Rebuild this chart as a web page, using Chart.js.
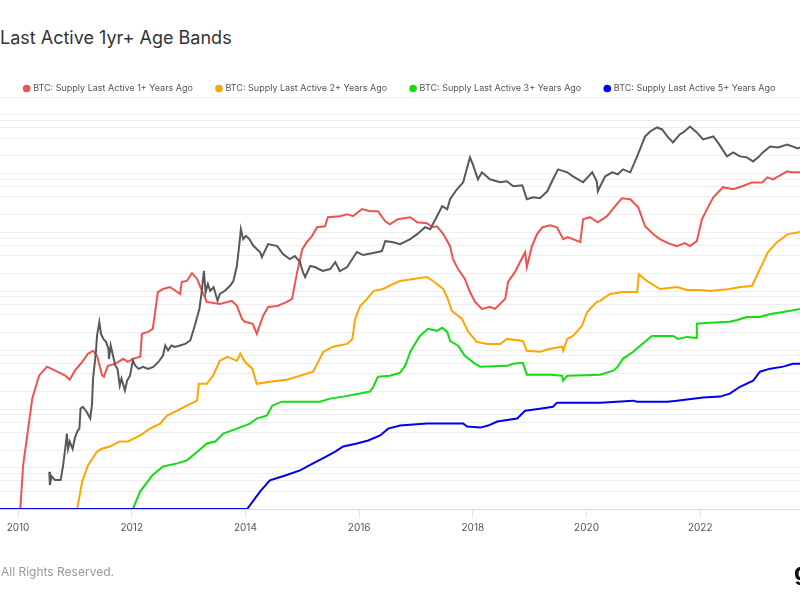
<!DOCTYPE html>
<html>
<head>
<meta charset="UTF-8">
<title>Supply Last Active 1yr+ Age Bands</title>
<script src="https://cdn.jsdelivr.net/npm/chart.js@4.4.0/dist/chart.umd.min.js"></script>
<style>
    html, body { margin: 0; padding: 0; background: #fff; width: 800px; height: 600px; overflow: hidden; }
    body { position: relative; font-family: Inter, "Noto Sans", sans-serif; }
    #title { position: absolute; left: 0; top: 27px; font-size: 18px; line-height: 22px; color: #333; white-space: nowrap; }
    #holder { position: absolute; left: 0; top: 0; width: 800px; height: 600px; }
    #footer { position: absolute; left: 1px; top: 564px; font-size: 12px; line-height: 15px; color: #999; white-space: nowrap; }
    #logo { position: absolute; left: 794px; top: 558px; font-size: 24px; line-height: 28px; font-weight: 700; color: #111; white-space: nowrap; }
</style>
</head>
<body>
<div id="title">Last Active 1yr+ Age Bands</div>
<div id="holder"><canvas id="chart-area" width="800" height="600"></canvas></div>
<div id="footer">All Rights Reserved.</div>
<div id="logo">glassnode</div>
<script>
    // x = decimal year
    var yearTicks = [2010, 2012, 2014, 2016, 2018, 2020, 2022];
    var priceSteps = [1, 2, 4, 6, 8];   // log grid lines in each decade

    // BTC price (USD), log axis
    var priceUsd = [[2010.55,0.086],[2010.56,0.051],[2010.59,0.072],[2010.65,0.062],[2010.75,0.062],[2010.79,0.105],[2010.83,0.21],[2010.86,0.38],[2010.88,0.21],[2010.91,0.28],[2010.96,0.21],[2011.00,0.32],[2011.04,0.41],[2011.08,0.47],[2011.10,1.02],[2011.14,1.09],[2011.21,0.89],[2011.27,0.69],[2011.30,1.16],[2011.32,3.27],[2011.37,9.3],[2011.39,17.7],[2011.43,29.9],[2011.46,18.9],[2011.50,15.6],[2011.55,13.7],[2011.59,10.5],[2011.60,7.1],[2011.63,12.0],[2011.67,8.1],[2011.71,5.5],[2011.75,4.8],[2011.79,2.5],[2011.82,3.3],[2011.88,2.07],[2011.92,3.06],[2011.97,3.7],[2012.02,6.7],[2012.06,5.5],[2012.12,4.8],[2012.20,5.2],[2012.29,4.8],[2012.38,5.2],[2012.47,6.3],[2012.55,8.1],[2012.59,12.0],[2012.64,9.9],[2012.70,12.0],[2012.76,11.3],[2012.85,12.0],[2012.94,12.8],[2013.03,14.6],[2013.11,26.2],[2013.19,50],[2013.23,96],[2013.27,223],[2013.30,96],[2013.34,133],[2013.38,102],[2013.44,117],[2013.51,69],[2013.55,90],[2013.64,102],[2013.73,124],[2013.79,151],[2013.85,272],[2013.89,593],[2013.92,1137],[2013.96,769],[2014.01,875],[2014.07,769],[2014.14,593],[2014.26,458],[2014.29,381],[2014.40,633],[2014.56,586],[2014.66,429],[2014.78,353],[2014.87,396],[2014.96,314],[2015.01,213],[2015.05,175],[2015.14,269],[2015.22,258],[2015.36,221],[2015.49,239],[2015.58,314],[2015.66,221],[2015.79,258],[2015.88,353],[2015.96,464],[2016.07,413],[2016.25,446],[2016.40,482],[2016.46,711],[2016.58,685],[2016.72,633],[2016.90,769],[2017.02,935],[2017.16,1228],[2017.25,1135],[2017.37,1887],[2017.46,2788],[2017.55,2480],[2017.60,3660],[2017.72,5410],[2017.83,7110],[2017.95,18840],[2018.00,14350],[2018.09,8000],[2018.16,10510],[2018.30,8000],[2018.48,7110],[2018.60,7390],[2018.71,6080],[2018.87,6320],[2018.95,3660],[2019.06,3960],[2019.18,3810],[2019.31,5000],[2019.41,8000],[2019.50,11800],[2019.66,10510],[2019.76,8990],[2019.94,7110],[2020.10,10510],[2020.18,7390],[2020.20,5000],[2020.24,6080],[2020.33,8990],[2020.45,10510],[2020.55,9720],[2020.64,11800],[2020.77,10510],[2020.89,19600],[2020.94,25760],[2021.03,42760],[2021.12,52000],[2021.24,60700],[2021.33,56200],[2021.42,42760],[2021.52,33800],[2021.64,46200],[2021.70,50000],[2021.82,63100],[2021.94,50000],[2022.05,38000],[2022.23,42760],[2022.31,33800],[2022.47,19600],[2022.58,22900],[2022.70,19600],[2022.82,18840],[2022.93,16100],[2023.02,18840],[2023.10,22900],[2023.23,28900],[2023.37,27860],[2023.53,31260],[2023.72,26800],[2023.76,27860]];

    // supply last active N+ years ago (million BTC)
    var supply1y = [[2009.0,0],[2010.04,0],[2010.09,1.73],[2010.25,4.38],[2010.37,5.29],[2010.51,5.65],[2010.69,5.45],[2010.83,5.29],[2010.91,5.13],[2011.00,5.49],[2011.13,5.84],[2011.23,6.16],[2011.32,6.28],[2011.39,6.08],[2011.48,5.29],[2011.51,5.25],[2011.58,5.68],[2011.71,5.76],[2011.85,5.96],[2011.93,5.84],[2012.02,5.96],[2012.15,6.04],[2012.18,6.95],[2012.29,7.03],[2012.37,7.15],[2012.46,8.61],[2012.55,8.73],[2012.67,8.81],[2012.80,8.61],[2012.85,8.53],[2012.88,9.01],[2012.97,9.05],[2013.06,9.36],[2013.15,9.13],[2013.20,8.85],[2013.32,8.22],[2013.55,8.14],[2013.76,8.26],[2013.85,8.06],[2013.94,7.54],[2013.99,7.43],[2014.13,7.35],[2014.20,6.95],[2014.31,7.66],[2014.40,8.02],[2014.56,8.06],[2014.73,8.22],[2014.82,8.34],[2014.91,9.40],[2015.00,10.31],[2015.08,10.59],[2015.17,10.83],[2015.26,11.18],[2015.40,11.22],[2015.45,11.58],[2015.66,11.62],[2015.79,11.70],[2015.89,11.62],[2016.05,11.90],[2016.19,11.82],[2016.33,11.82],[2016.46,11.42],[2016.54,11.30],[2016.68,11.50],[2016.90,11.58],[2017.02,11.38],[2017.19,11.34],[2017.30,11.18],[2017.37,11.22],[2017.48,10.91],[2017.60,10.43],[2017.65,9.92],[2017.74,9.52],[2017.86,9.13],[2017.95,8.61],[2018.04,8.22],[2018.16,7.94],[2018.30,8.02],[2018.39,7.94],[2018.57,8.34],[2018.62,9.01],[2018.74,9.40],[2018.83,9.80],[2018.92,10.19],[2018.95,9.60],[2019.04,10.43],[2019.13,10.91],[2019.22,11.18],[2019.36,11.26],[2019.48,11.18],[2019.59,10.71],[2019.67,10.79],[2019.89,10.59],[2019.94,11.50],[2020.06,11.58],[2020.20,11.38],[2020.36,11.62],[2020.50,12.01],[2020.62,12.33],[2020.77,12.29],[2020.91,11.97],[2021.03,11.22],[2021.17,10.91],[2021.29,10.71],[2021.43,10.55],[2021.59,10.43],[2021.73,10.55],[2021.82,10.43],[2021.94,10.63],[2022.03,11.50],[2022.12,11.90],[2022.23,12.37],[2022.40,12.77],[2022.58,12.69],[2022.74,12.81],[2022.91,12.96],[2023.09,12.96],[2023.18,13.16],[2023.28,13.08],[2023.53,13.40],[2023.61,13.36],[2023.76,13.36]];
    var supply2y = [[2009.0,0],[2011.04,0],[2011.13,1.10],[2011.23,1.73],[2011.39,2.28],[2011.48,2.40],[2011.62,2.48],[2011.79,2.68],[2011.93,2.68],[2012.15,2.92],[2012.32,3.19],[2012.50,3.39],[2012.62,3.71],[2012.80,3.90],[2012.97,4.10],[2013.15,4.30],[2013.18,4.97],[2013.32,4.97],[2013.43,5.29],[2013.55,5.88],[2013.68,6.04],[2013.85,5.88],[2013.91,6.16],[2013.99,5.84],[2014.12,5.57],[2014.20,4.97],[2014.43,5.05],[2014.73,5.13],[2014.96,5.29],[2015.19,5.45],[2015.28,5.84],[2015.37,6.24],[2015.54,6.44],[2015.79,6.55],[2015.88,6.75],[2015.93,7.54],[2016.02,8.06],[2016.14,8.34],[2016.25,8.65],[2016.42,8.73],[2016.60,8.93],[2016.72,9.05],[2016.95,9.13],[2017.19,9.21],[2017.30,9.05],[2017.48,8.73],[2017.56,8.34],[2017.63,7.86],[2017.81,7.54],[2017.92,7.03],[2018.07,6.63],[2018.25,6.55],[2018.48,6.55],[2018.60,6.75],[2018.88,6.67],[2018.95,6.28],[2019.18,6.24],[2019.36,6.36],[2019.57,6.44],[2019.59,6.28],[2019.66,6.75],[2019.76,6.87],[2019.92,7.27],[2020.01,7.82],[2020.18,8.22],[2020.24,8.26],[2020.41,8.53],[2020.64,8.61],[2020.89,8.61],[2020.92,9.32],[2021.06,9.05],[2021.29,8.73],[2021.59,8.81],[2021.77,8.69],[2022.00,8.69],[2022.17,8.65],[2022.52,8.73],[2022.70,8.81],[2022.91,8.85],[2023.05,9.52],[2023.19,10.19],[2023.35,10.59],[2023.54,10.91],[2023.76,10.99]];
    var supply3y = [[2009.0,0],[2012.02,0],[2012.15,0.70],[2012.36,1.33],[2012.55,1.69],[2012.80,1.81],[2012.97,1.93],[2013.18,2.32],[2013.32,2.60],[2013.47,2.68],[2013.61,2.99],[2013.85,3.19],[2014.08,3.39],[2014.20,3.59],[2014.38,3.71],[2014.47,4.10],[2014.64,4.26],[2015.31,4.26],[2015.49,4.38],[2015.72,4.46],[2016.02,4.58],[2016.19,4.66],[2016.25,4.85],[2016.33,5.25],[2016.54,5.29],[2016.72,5.41],[2016.81,5.68],[2016.90,6.24],[2016.98,6.55],[2017.07,6.87],[2017.21,7.15],[2017.37,7.07],[2017.46,7.19],[2017.55,7.03],[2017.60,6.67],[2017.74,6.48],[2017.86,6.08],[2018.04,5.76],[2018.13,5.65],[2018.60,5.68],[2018.71,5.76],[2018.88,5.80],[2018.95,5.33],[2019.36,5.33],[2019.57,5.29],[2019.59,5.09],[2019.66,5.29],[2020.24,5.33],[2020.47,5.49],[2020.55,5.65],[2020.64,5.96],[2020.82,6.24],[2020.98,6.55],[2021.15,6.87],[2021.52,6.87],[2021.61,6.75],[2021.77,6.83],[2021.93,6.79],[2021.94,7.35],[2022.17,7.39],[2022.52,7.43],[2022.65,7.50],[2022.82,7.62],[2023.05,7.62],[2023.23,7.74],[2023.46,7.82],[2023.76,7.94]];
    var supply5y = [[2009.0,0],[2014.03,0],[2014.26,0.70],[2014.43,1.14],[2014.70,1.33],[2014.96,1.53],[2015.19,1.81],[2015.36,2.01],[2015.58,2.28],[2015.72,2.48],[2015.96,2.60],[2016.16,2.72],[2016.37,2.92],[2016.51,3.19],[2016.72,3.31],[2017.19,3.39],[2017.83,3.39],[2017.90,3.27],[2018.13,3.23],[2018.27,3.31],[2018.43,3.47],[2018.78,3.59],[2018.92,3.90],[2019.18,3.98],[2019.41,4.06],[2019.48,4.22],[2020.24,4.22],[2020.82,4.30],[2020.89,4.26],[2021.42,4.26],[2021.59,4.30],[2022.05,4.42],[2022.35,4.46],[2022.52,4.58],[2022.70,4.85],[2022.93,5.09],[2023.05,5.45],[2023.23,5.57],[2023.46,5.65],[2023.63,5.76],[2023.76,5.76]];

    var xMin = 2009.683, xMax = 2023.755;
    var priceMin = 0.02, priceMax = 200000;
    var supplyMax = 16.35;

    function toPoints(arr) {
        return arr.map(function (p) { return { x: p[0], y: p[1] }; });
    }

    var priceGrid = [];
    for (var k = -2; k <= 5; k++) {
        priceSteps.forEach(function (m) {
            var v = +(m * Math.pow(10, k)).toPrecision(6);
            if (v >= priceMin && v <= priceMax) priceGrid.push(v);
        });
    }

    function lineSet(label, data, color, axis, order) {
        return {
            label: label, data: toPoints(data), yAxisID: axis,
            borderColor: color, backgroundColor: color, borderWidth: 2,
            pointRadius: 0, pointHoverRadius: 0, pointStyle: 'circle',
            tension: 0, order: order
        };
    }

    // pull the plot up under the legend
    var legendGap = {
        id: 'legendGap',
        beforeInit: function (chart) {
            var fit = chart.legend.fit;
            chart.legend.fit = function () { fit.call(this); this.height -= 6; };
        }
    };

    var ctx = document.getElementById('chart-area').getContext('2d');
    window.myChart = new Chart(ctx, {
        type: 'line',
        data: {
            datasets: [
                lineSet('BTC: Price', priceUsd, '#595959', 'price', 0),
                lineSet('BTC: Supply Last Active 1+ Years Ago', supply1y, '#ef5350', 'supply', 4),
                lineSet('BTC: Supply Last Active 2+ Years Ago', supply2y, '#ffa500', 'supply', 3),
                lineSet('BTC: Supply Last Active 3+ Years Ago', supply3y, '#11dd11', 'supply', 2),
                lineSet('BTC: Supply Last Active 5+ Years Ago', supply5y, '#0000ee', 'supply', 1)
            ]
        },
        plugins: [legendGap],
        options: {
            responsive: false,
            animation: false,
            layout: { padding: { top: 60, bottom: 62, left: 0, right: 0 } },
            plugins: {
                tooltip: { enabled: false },
                legend: {
                    position: 'top',
                    labels: {
                        usePointStyle: true,
                        boxWidth: 4,
                        boxHeight: 4,
                        padding: 24,
                        color: '#555',
                        font: { family: 'Inter', size: 9 },
                        filter: function (item) { return item.datasetIndex > 0; },
                        sort: function (a, b) { return a.datasetIndex - b.datasetIndex; }
                    }
                }
            },
            scales: {
                x: {
                    type: 'linear', min: xMin, max: xMax,
                    afterBuildTicks: function (axis) {
                        axis.ticks = yearTicks.map(function (v) { return { value: v }; });
                    },
                    ticks: {
                        color: '#555', font: { family: 'Inter', size: 10 }, padding: 4,
                        maxRotation: 0, autoSkip: false,
                        callback: function (v) { return String(v); }
                    },
                    grid: { drawOnChartArea: false, drawTicks: true, tickLength: 9, color: '#e6e6e6' },
                    border: { color: '#dcdcdc', width: 1 }
                },
                price: {
                    type: 'logarithmic', position: 'left', min: priceMin, max: priceMax,
                    afterBuildTicks: function (axis) {
                        axis.ticks = priceGrid.map(function (v) { return { value: v }; });
                    },
                    ticks: { display: false },
                    grid: { color: '#eeeeee', drawTicks: false },
                    border: { display: false }
                },
                supply: {
                    type: 'linear', position: 'right', display: false, min: 0, max: supplyMax
                }
            }
        }
    });
</script>
</body>
</html>
